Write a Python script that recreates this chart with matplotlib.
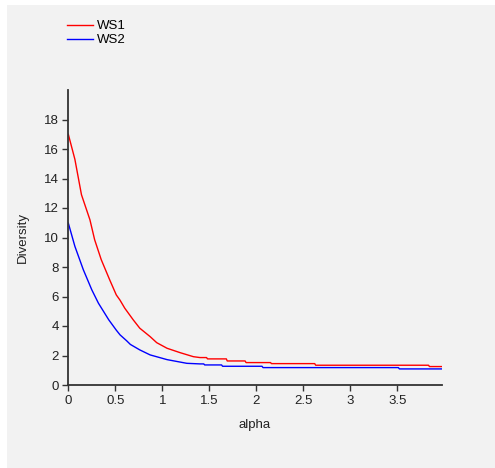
import matplotlib
matplotlib.use("Agg")
import matplotlib.pyplot as plt
from matplotlib.patches import Rectangle
from matplotlib.lines import Line2D

plt.rcParams['font.family'] = ['Liberation Sans', 'DejaVu Sans']

# Data
ws1_alpha = [0, 0.07, 0.14, 0.23, 0.28, 0.35, 0.44, 0.51, 0.55, 0.60, 0.69, 0.76, 0.87, 0.94,
             1.05, 1.19, 1.33, 1.40, 1.47, 1.48, 1.68, 1.69, 1.88, 1.89, 2.15, 2.16,
             2.62, 2.63, 3.83, 3.84, 3.97]
ws1_div = [17.0, 15.3, 12.9, 11.2, 9.85, 8.5, 7.13, 6.11, 5.75, 5.21, 4.42, 3.85, 3.28, 2.87,
           2.49, 2.19, 1.92, 1.86, 1.86, 1.77, 1.77, 1.63, 1.63, 1.52, 1.52, 1.45,
           1.45, 1.34, 1.34, 1.25, 1.25]
ws2_alpha = [0, 0.07, 0.16, 0.25, 0.32, 0.43, 0.51, 0.55, 0.62, 0.66, 0.76, 0.87, 1.05, 1.26,
             1.40, 1.44, 1.45, 1.63, 1.64, 2.06, 2.07, 3.51, 3.52, 3.97]
ws2_div = [10.98, 9.4, 7.81, 6.45, 5.55, 4.42, 3.72, 3.4, 3.0, 2.75, 2.38, 2.04, 1.72, 1.47,
           1.43, 1.43, 1.36, 1.36, 1.27, 1.27, 1.18, 1.18, 1.09, 1.09]
series_names = ["WS1", "WS2"]
series_colors = ["#ff0000", "#0000ff"]
x_ticks = [0, 0.5, 1, 1.5, 2, 2.5, 3, 3.5]
x_ticklabels = ["0", "0.5", "1", "1.5", "2", "2.5", "3", "3.5"]
y_ticks = [0, 2, 4, 6, 8, 10, 12, 14, 16, 18]

W, H = 495, 468
FS = 9.5
fig = plt.figure(figsize=(W / 100, H / 100), dpi=100)
fig.patch.set_facecolor("white")
fig.patches.append(Rectangle((7 / W, 0), 1 - 7 / W, 1 - 5 / H, transform=fig.transFigure,
                             facecolor="#f2f2f2", edgecolor="none", zorder=-10))

ax = fig.add_axes([68.3 / W, (H - 385) / H, (441.7 - 68.3) / W, (385 - 90) / H])
ax.set_facecolor("none")
ax.plot(ws1_alpha, ws1_div, color=series_colors[0], lw=1.0)
ax.plot(ws2_alpha, ws2_div, color=series_colors[1], lw=1.0)
ax.set_xlim(0, 3.97)
ax.set_ylim(0, 20)
ax.set_xticks(x_ticks)
ax.set_xticklabels(x_ticklabels)
ax.set_yticks(y_ticks)
for s in ["top", "right"]:
    ax.spines[s].set_visible(False)
for s in ["left", "bottom"]:
    ax.spines[s].set_color("#333333")
    ax.spines[s].set_linewidth(1.3)
ax.tick_params(axis="both", direction="out", length=4, width=1.0, color="#333333",
               labelsize=FS, labelcolor="#222222", pad=3)
ax.set_xlabel("alpha", fontsize=FS, color="#222222", labelpad=9)
ax.set_ylabel("Diversity", fontsize=FS, color="#222222", labelpad=11)

handles = [Line2D([], [], color=c, lw=1.0) for c in series_colors]
fig.legend(handles, series_names, loc="upper left", bbox_to_anchor=(67.3 / W, 1 - 20 / H),
           frameon=False, fontsize=FS, handlelength=1.92, handletextpad=0.35,
           labelspacing=0.14, borderaxespad=0, borderpad=0)

fig.savefig("out.png", dpi=100, facecolor=fig.get_facecolor())
